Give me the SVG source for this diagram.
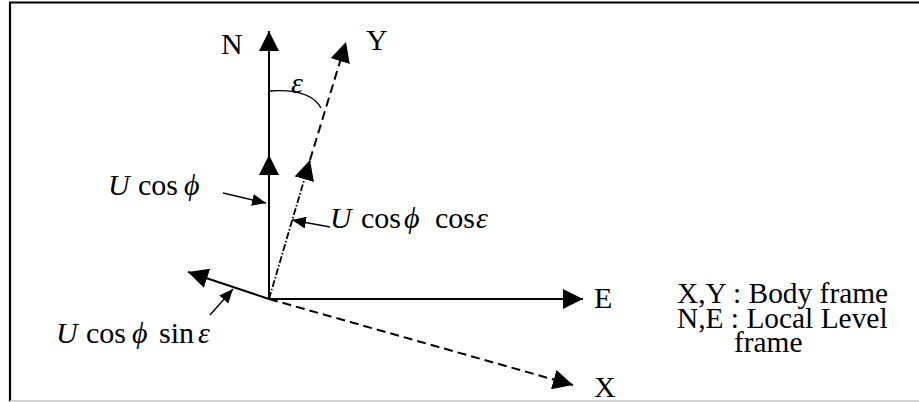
<svg xmlns="http://www.w3.org/2000/svg" width="919" height="402" viewBox="0 0 919 402">
<style>
text{font-family:"Liberation Serif","Times New Roman",serif;fill:#000}
.ax{font-size:30px}
.m{font-size:30px}
.lg{font-size:29.4px}
.i{font-style:italic}
.solid{stroke:#000;stroke-width:2;fill:none}
.dash{stroke:#000;stroke-width:2;fill:none;stroke-dasharray:9 5}
.dashdot{stroke:#000;stroke-width:1.8;fill:none;stroke-dasharray:7 2 1.5 2}
.ptr{stroke:#000;stroke-width:1.4;fill:none}
</style>
<defs>
<marker id="ah" markerUnits="userSpaceOnUse" markerWidth="20" markerHeight="20" refX="20" refY="10" orient="auto" viewBox="0 0 20 20">
<path d="M0,0 L20,10 L0,20 z" fill="#000"/>
</marker>
<marker id="sh" markerUnits="userSpaceOnUse" markerWidth="14" markerHeight="12" refX="14" refY="6" orient="auto" viewBox="0 0 14 12">
<path d="M0,0 L14,6 L0,12 z" fill="#000"/>
</marker>
</defs>
<g id="frame">
<path d="M10,401 L10,2.5 L919,2.5" stroke="#000" stroke-width="2.2" fill="none"/>
<line x1="10" y1="401" x2="919" y2="401" stroke="#c4c4c4" stroke-width="1.5"/>
</g>
<g id="connectors">
<path class="solid" d="M269,299 L269,155" marker-end="url(#ah)"/>
<path class="solid" d="M269,155 L269,31" marker-end="url(#ah)"/>
<path class="solid" d="M269,299 L583,299" marker-end="url(#ah)"/>
<path class="solid" d="M269,299 L188,272" marker-end="url(#ah)"/>
<path class="dashdot" d="M269,299 L310,160" marker-end="url(#ah)"/>
<path class="dash" d="M310,160 L346,42" marker-end="url(#ah)"/>
<path class="dash" d="M269,299 L573,385" marker-end="url(#ah)"/>
<path class="ptr" d="M269,91 Q310,88 321,108"/>
<path class="ptr" d="M223,193 L266,203" marker-end="url(#sh)"/>
<path class="ptr" d="M330,227 L292,220" marker-end="url(#sh)"/>
<path class="ptr" d="M210,315 L233,289" marker-end="url(#sh)"/>
</g>
<g id="label-N"><text class="ax" x="221" y="54">N</text></g>
<g id="label-Y"><text class="ax" x="366" y="50">Y</text></g>
<g id="label-E"><text class="ax" x="594" y="308">E</text></g>
<g id="label-X"><text class="ax" x="594" y="397">X</text></g>
<g id="label-eps"><text class="m i" x="291" y="93">ε</text></g>
<g id="label-ucosphi"><text class="m" y="195"><tspan class="i" x="108">U</tspan><tspan x="138">cos</tspan><tspan class="i" x="184">ϕ</tspan></text></g>
<g id="label-ucosphicoseps"><text class="m" y="228"><tspan class="i" x="330">U</tspan><tspan x="361">cos</tspan><tspan class="i" x="404">ϕ</tspan><tspan x="435">cos</tspan><tspan class="i" x="476">ε</tspan></text></g>
<g id="label-ucosphisineps"><text class="m" y="343"><tspan class="i" x="56">U</tspan><tspan x="86">cos</tspan><tspan class="i" x="132">ϕ</tspan><tspan x="159">sin</tspan><tspan class="i" x="198">ε</tspan></text></g>
<g id="legend">
<text class="lg" x="677" y="303">X,Y : Body frame</text>
<text class="lg" x="677" y="328">N,E : Local Level</text>
<text class="lg" x="734" y="352">frame</text>
</g>
</svg>
